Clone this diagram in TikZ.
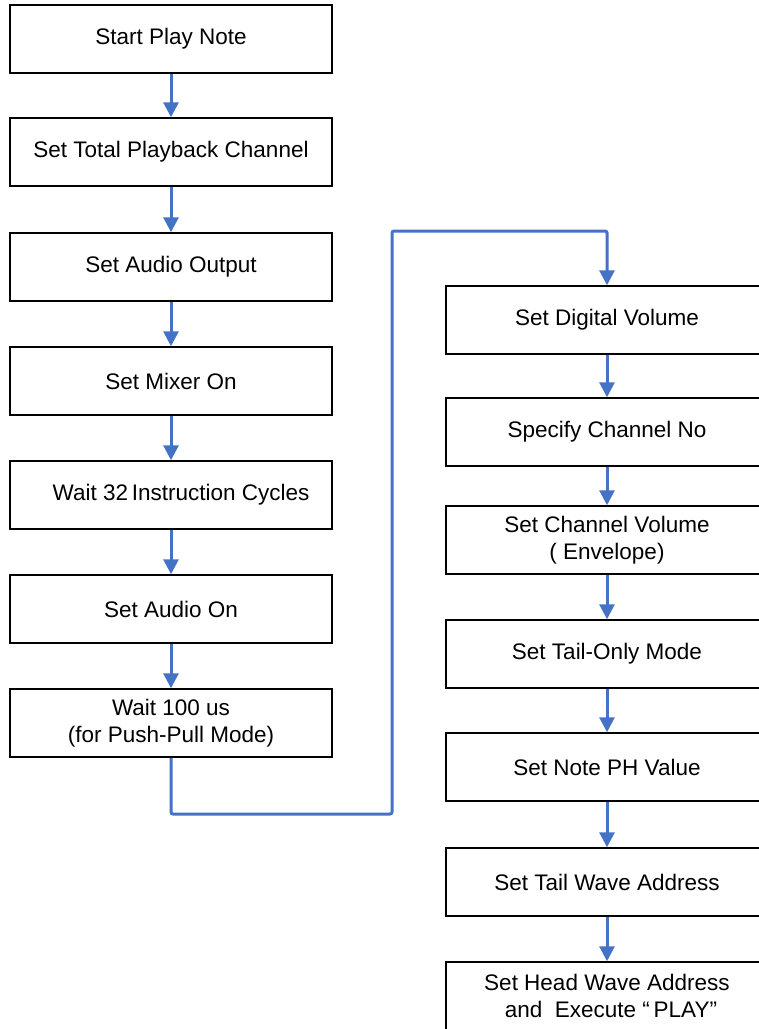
\documentclass[tikz,border=0pt]{standalone}
\usepackage{fontspec}
\setmainfont{Liberation Sans}
\usetikzlibrary{arrows.meta}
\definecolor{flowblue}{HTML}{4472C4}
\begin{document}
\begin{tikzpicture}[x=1pt,y=-1pt,
  stepbox/.style={draw=black,line width=1.5pt,rectangle,minimum width=322pt,minimum height=68pt,inner sep=0pt,align=center,font=\fontsize{22.5}{27}\selectfont},
  arr/.style={draw=flowblue,line width=3pt,-{Triangle[width=15pt,length=15pt]}},
  conn/.style={draw=flowblue,line width=3pt,rounded corners=2pt,-{Triangle[width=15pt,length=15pt]}}]
\useasboundingbox (0,0) rectangle (759,1029);
\clip (0,0) rectangle (759,1029);
% left column
\node[stepbox] (b1) at (171,39) {Start Play Note};
\node[stepbox] (b2) at (171,152) {Set Total Playback Channel};
\node[stepbox] (b3) at (171,267) {Set Audio Output};
\node[stepbox] (b4) at (171,381) {Set Mixer On};
\node[stepbox] (b5) at (171,495) {\hspace*{20pt}Wait 32\,Instruction Cycles};
\node[stepbox] (b6) at (171,609) {Set Audio On};
\node[stepbox] (b7) at (171,723) {Wait 100 us\\(for Push-Pull Mode)};
% right column
\node[stepbox] (r1) at (607,320) {Set Digital Volume};
\node[stepbox] (r2) at (607,432) {Specify Channel No};
\node[stepbox] (r3) at (607,540) {Set Channel Volume\\( Envelope)};
\node[stepbox] (r4) at (607,654) {Set Tail-Only Mode};
\node[stepbox] (r5) at (607,767) {Set Note PH Value};
\node[stepbox] (r6) at (607,882) {Set Tail Wave Address};
\node[stepbox] (r7) at (607,996) {Set Head Wave Address\\\hspace*{8pt}and \ Execute “\,PLAY”};
% connectors
\draw[arr] (b1) -- (b2);
\draw[arr] (b2) -- (b3);
\draw[arr] (b3) -- (b4);
\draw[arr] (b4) -- (b5);
\draw[arr] (b5) -- (b6);
\draw[arr] (b6) -- (b7);
\coordinate (c1) at (171,814);
\coordinate (c2) at (392,814);
\coordinate (c3) at (392,231);
\coordinate (c4) at (607,231);
\draw[conn] (b7) -- (c1) -- (c2) -- (c3) -- (c4) -- (r1);
\draw[arr] (r1) -- (r2);
\draw[arr] (r2) -- (r3);
\draw[arr] (r3) -- (r4);
\draw[arr] (r4) -- (r5);
\draw[arr] (r5) -- (r6);
\draw[arr] (r6) -- (r7);
\end{tikzpicture}
\end{document}
